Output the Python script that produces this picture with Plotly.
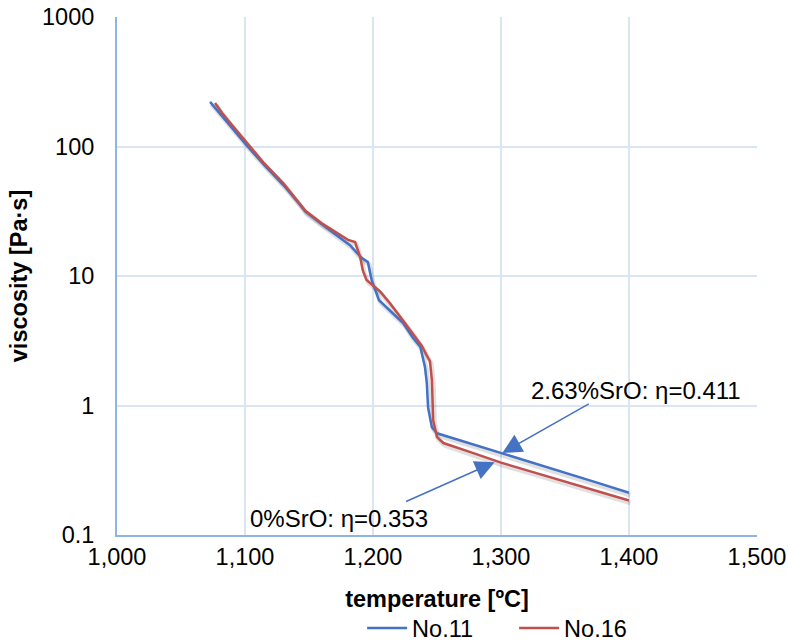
import plotly.graph_objects as go
import numpy as np

# No.11 (2.63% SrO)
t_no11 = [1072.7, 1080, 1090, 1102, 1115, 1130, 1143, 1147, 1160, 1170, 1182, 1191, 1196, 1199,
          1204.7, 1215, 1223.5, 1231, 1237, 1240.6, 1242, 1243, 1246, 1250, 1275, 1300, 1325,
          1350, 1375, 1400]
eta_no11 = [221, 181, 138, 100, 72, 50.4, 35.5, 31.5, 25.1, 21.2, 17.3, 13.8, 12.8, 9.3,
            6.5, 5.2, 4.33, 3.35, 2.83, 1.98, 1.5, 0.97, 0.68, 0.61, 0.513, 0.43, 0.362,
            0.303, 0.254, 0.212]

# No.16 (0% SrO)
t_no16 = [1076.6, 1082, 1090, 1104, 1115, 1130, 1143, 1147, 1160, 1170, 1180.5, 1186, 1190,
          1192, 1195, 1205.5, 1213, 1223, 1231, 1238, 1243, 1244.5, 1246, 1247, 1250, 1255,
          1275, 1300, 1325, 1350, 1375, 1400]
eta_no16 = [217, 182, 146, 100, 74, 52, 36, 32, 25.5, 22, 19, 18.3, 14, 11.1, 9.3, 7.6, 6.2,
            4.6, 3.63, 2.9, 2.33, 2.2, 1.57, 0.77, 0.57, 0.513, 0.44, 0.362, 0.306, 0.259,
            0.219, 0.1845]

x_ticks = [1000, 1100, 1200, 1300, 1400, 1500]
x_ticklabels = ["1,000", "1,100", "1,200", "1,300", "1,400", "1,500"]
y_ticks = [0.1, 1, 10, 100, 1000]
y_ticklabels = ["0.1", "1", "10", "100", "1000"]

ann_texts = ["2.63%SrO: η=0.411", "0%SrO: η=0.353"]
ann_head_t = [1301, 1295]
ann_head_eta = [0.43, 0.365]
ann_text_t = [1322, 1102]
ann_text_eta = [1.3, 0.135]

BLUE = "#4472c4"
RED = "#c0504d"
FONT = "Liberation Sans, Arial, sans-serif"
FS = 23.5

fig = go.Figure()

# soft shadows (Excel-style) derived from the series data
for t, e in [(t_no11, eta_no11), (t_no16, eta_no16)]:
    fig.add_trace(go.Scatter(
        x=np.array(t) + 1.2, y=np.array(e) * 0.955, mode="lines",
        line=dict(color="rgba(0,0,0,0.12)", width=4.5), showlegend=False, hoverinfo="skip"))

fig.add_trace(go.Scatter(x=t_no11, y=eta_no11, mode="lines", name="No.11",
                         line=dict(color=BLUE, width=2.5)))
fig.add_trace(go.Scatter(x=t_no16, y=eta_no16, mode="lines", name="No.16",
                         line=dict(color=RED, width=2.5)))

for i, txt in enumerate(ann_texts):
    # arrow
    fig.add_annotation(x=ann_head_t[i], y=np.log10(ann_head_eta[i]), xref="x", yref="y",
                       text="", showarrow=True,
                       ax=[88, -90][i], ay=[-50, 40][i],
                       arrowhead=2, arrowsize=2.6, arrowwidth=1.5, arrowcolor=BLUE,
                       standoff=0, startstandoff=0)
    # label
    fig.add_annotation(x=ann_text_t[i], y=np.log10(ann_text_eta[i]), xref="x", yref="y",
                       text=txt, showarrow=False, xanchor="left", yanchor="middle",
                       font=dict(family=FONT, size=24, color="#000000"))

fig.update_layout(
    width=788, height=644,
    margin=dict(l=117, r=31, t=17, b=109, autoexpand=False),
    paper_bgcolor="white", plot_bgcolor="white",
    font=dict(family=FONT, size=FS, color="#000000"),
    showlegend=True,
    legend=dict(orientation="h", x=0.383, xanchor="left", y=-0.18, yanchor="middle",
                font=dict(family=FONT, size=FS), itemwidth=40, entrywidth=97,
                bgcolor="rgba(0,0,0,0)"),
    xaxis=dict(range=[1000, 1500], tickvals=x_ticks, ticktext=x_ticklabels,
               showgrid=True, gridcolor="#d9e4f4", gridwidth=2,
               showline=True, linecolor="#8eb4e3", linewidth=2,
               ticks="", zeroline=False, automargin=False,
               title=dict(text="<b>temperature [ºC]</b>", font=dict(size=FS), standoff=21)),
    yaxis=dict(type="log", range=[-1, 3], tickvals=y_ticks, ticktext=y_ticklabels,
               showgrid=True, gridcolor="#d9e4f4", gridwidth=2,
               showline=True, linecolor="#8eb4e3", linewidth=2,
               ticks="outside", ticklen=16, tickcolor="rgba(0,0,0,0)",
               zeroline=False, automargin=False,
               title=dict(text="<b>viscosity [Pa·s]</b>", font=dict(size=FS), standoff=8)),
)

fig.write_html("out.html")
